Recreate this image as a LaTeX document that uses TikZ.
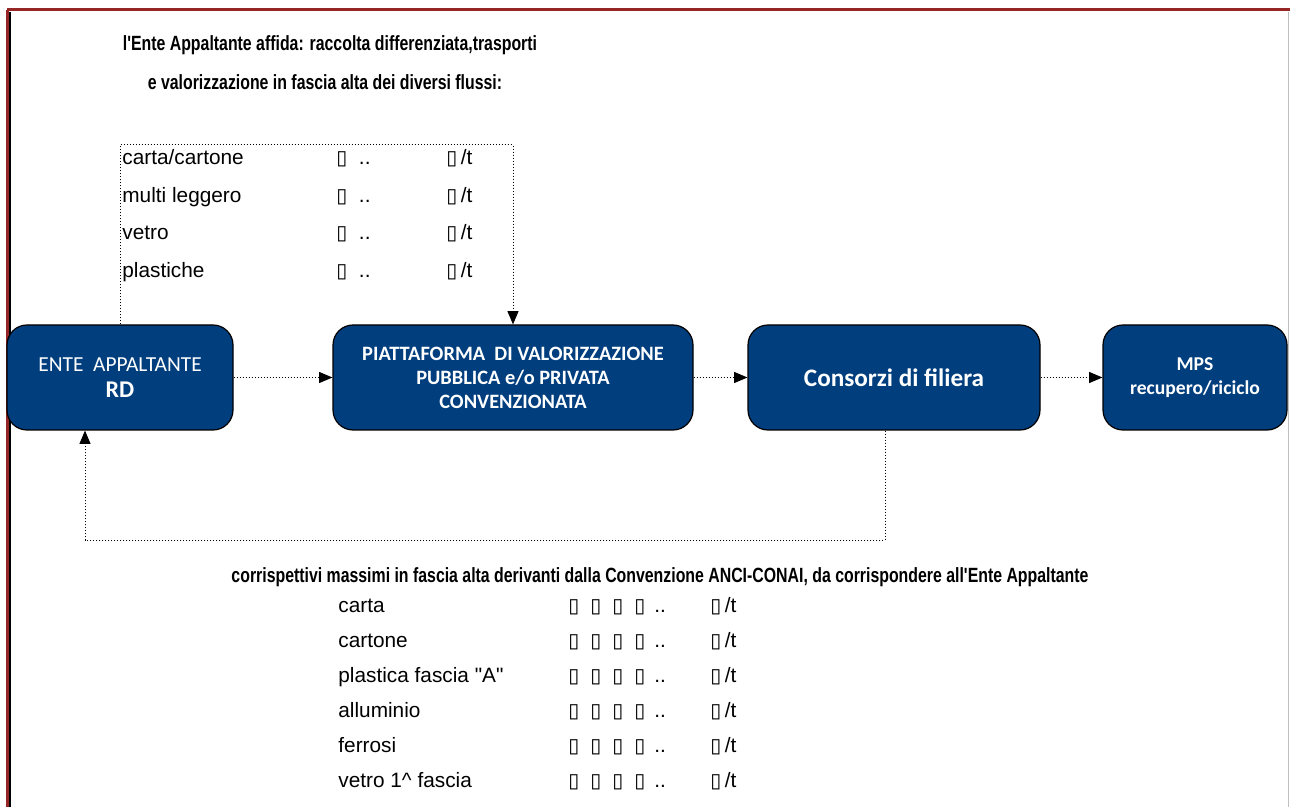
\documentclass[tikz,border=0pt]{standalone}
\usepackage{fontspec}
\setmainfont{Liberation Sans}
\newfontfamily\narrowfont[FakeStretch=0.77]{Liberation Sans}
\newfontfamily\boxfont{Carlito}
\newfontfamily\symfont{DejaVu Sans}
\usetikzlibrary{arrows,positioning}
\definecolor{boxblue}{RGB}{0,62,126}
\definecolor{framered}{RGB}{150,38,38}
\tikzset{blok/.style={draw=black, fill=boxblue, rounded corners=10pt, text=white, align=center, line width=0.6pt, minimum height=52.5pt, inner sep=2pt},
	flow/.style={line width=0.5pt, densely dotted, ->, >=triangle 45},
	riga/.style={anchor=base west, inner sep=0pt, font=\fontsize{10.4}{12}\selectfont},
	titolo/.style={inner sep=0pt, font=\narrowfont\bfseries\fontsize{10.3}{12}\selectfont}}
\newcommand{\tofu}{{\symfont\fontsize{10}{12}\selectfont\char"25AF}}
\newcommand{\quattro}{\makebox[11pt][l]{\tofu}\makebox[11pt][l]{\tofu}\makebox[11pt][l]{\tofu}\makebox[10pt][l]{\tofu}..}

\begin{document}
\begin{tikzpicture}[x=0.5pt,y=-0.5pt]
	\useasboundingbox (0,0) rectangle (1290,807);
	
	% cornice
	\draw[framered, line width=1.5pt] (7,10) -- (1290,10);
	\draw[framered, line width=1.5pt] (7,10) -- (7,807);
	\draw[black, line width=1pt] (9.5,12) -- (9.5,807);
	\draw[black!25, line width=0.5pt] (1288,12) -- (1288,807);
	
	\node[titolo] (h1) at (330,45) {l'Ente Appaltante affida: raccolta differenziata,trasporti};
	\node[titolo] (h2) at (325,82) {e valorizzazione in fascia alta dei diversi flussi:};
	
	\node[riga] (f1) at (122,165) {carta/cartone};
	\node[riga] (f2) at (122,203) {multi leggero};
	\node[riga] (f3) at (122,240) {vetro};
	\node[riga] (f4) at (122,278) {plastiche};
	\node[riga] (v1) at (336,165) {\tofu\ \ ..};
	\node[riga] (v2) at (336,203) {\tofu\ \ ..};
	\node[riga] (v3) at (336,240) {\tofu\ \ ..};
	\node[riga] (v4) at (336,278) {\tofu\ \ ..};
	\node[riga] (u1) at (446,165) {\tofu\,/t};
	\node[riga] (u2) at (446,203) {\tofu\,/t};
	\node[riga] (u3) at (446,240) {\tofu\,/t};
	\node[riga] (u4) at (446,278) {\tofu\,/t};
	
	\node[blok, minimum width=113pt] (e) at (120,377.5) {\boxfont\fontsize{10.7}{14}\selectfont ENTE\ \ APPALTANTE\\[1pt] \boxfont\bfseries\fontsize{12}{14}\selectfont RD};
	\node[blok, minimum width=180pt] (p) at (513,377.5) {\boxfont\bfseries\fontsize{10.2}{12.8}\selectfont PIATTAFORMA\ \ DI VALORIZZAZIONE\\ \boxfont\bfseries\fontsize{10.2}{12.8}\selectfont PUBBLICA e/o PRIVATA\\ \boxfont\bfseries\fontsize{10.2}{12.8}\selectfont CONVENZIONATA};
	\node[blok, minimum width=146pt] (c) at (894,377.5) {\boxfont\bfseries\fontsize{12.6}{14}\selectfont Consorzi di filiera};
	\node[blok, minimum width=92pt] (m) at (1195,377.5) {\boxfont\bfseries\fontsize{9.8}{12.5}\selectfont MPS\\ \boxfont\bfseries\fontsize{9.8}{12.5}\selectfont recupero/riciclo};
	
	\draw[flow] (e) -- (p);
	\draw[flow] (p) -- (c);
	\draw[flow] (c) -- (m);
	
	\coordinate (t1) at (120,145);
	\coordinate (t2) at (513,145);
	\draw[flow] (e.north) -- (t1) -- (t2) -- (p.north);
	
	\coordinate (b1) at (885,540);
	\coordinate (b2) at (85,540);
	\draw[flow] (c.south -| b1) -- (b1) -- (b2) -- (e.south -| b2);
	
	\node[titolo] (h3) at (660,577) {corrispettivi massimi in fascia alta derivanti dalla Convenzione ANCI-CONAI, da corrispondere all'Ente Appaltante};
	
	\node[riga] (c1) at (338,612) {carta};
	\node[riga] (c2) at (338,647) {cartone};
	\node[riga] (c3) at (338,682) {plastica fascia \textquotedbl A\textquotedbl};
	\node[riga] (c4) at (338,717) {alluminio};
	\node[riga] (c5) at (338,752) {ferrosi};
	\node[riga] (c6) at (338,787) {vetro 1\^{} fascia};
	\node[riga] (k1) at (568,612) {\quattro};
	\node[riga] (k2) at (568,647) {\quattro};
	\node[riga] (k3) at (568,682) {\quattro};
	\node[riga] (k4) at (568,717) {\quattro};
	\node[riga] (k5) at (568,752) {\quattro};
	\node[riga] (k6) at (568,787) {\quattro};
	\node[riga] (w1) at (710,612) {\tofu\,/t};
	\node[riga] (w2) at (710,647) {\tofu\,/t};
	\node[riga] (w3) at (710,682) {\tofu\,/t};
	\node[riga] (w4) at (710,717) {\tofu\,/t};
	\node[riga] (w5) at (710,752) {\tofu\,/t};
	\node[riga] (w6) at (710,787) {\tofu\,/t};
\end{tikzpicture}
\end{document}
